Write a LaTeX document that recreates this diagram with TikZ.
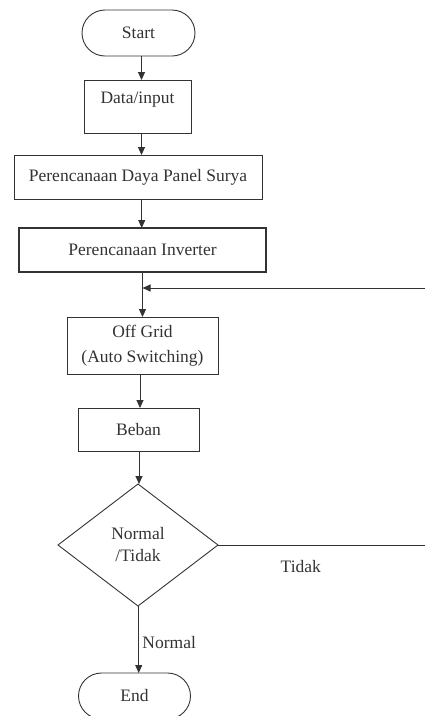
\documentclass[tikz,border=0pt]{standalone}
\usepackage{fontspec}
\setmainfont{Liberation Serif}
\usetikzlibrary{positioning, shapes, arrows.meta, calc}

\begin{document}
\begin{tikzpicture}[x=1pt, y=1pt, ->, >={Triangle[length=8pt,width=7pt]}, line width=0.9pt, color=black!80,
  every node/.style={font=\fontsize{17.5}{22}\selectfont},
  box/.style={draw, rectangle, inner sep=0pt, outer sep=0pt, align=center},
  term/.style={draw, rounded rectangle, inner sep=0pt, outer sep=0pt, minimum width=113pt, minimum height=46pt},
  cond/.style={draw, diamond, inner sep=0pt, outer sep=0pt, aspect=1.3, minimum width=160pt, minimum height=122pt, align=center}]
  \path[use as bounding box] (0,0) coordinate (nw) rectangle (425,-716) coordinate (se);

  \node[term] (start) at (138.5,-33) {Start};
  \node[box, minimum width=107pt, minimum height=53pt, text depth=18pt, below=24pt of start, xshift=-1pt] (data) {Data/input};
  \node[box, minimum width=248pt, minimum height=44pt, below=22pt of data, xshift=0.5pt] (daya) {Perencanaan Daya Panel Surya};
  \node[box, line width=1.3pt, minimum width=247pt, minimum height=44pt, below=29pt of daya, xshift=4.5pt] (inv) {Perencanaan Inverter};
  \node[box, minimum width=151pt, minimum height=57pt, below=45pt of inv] (off) {Off Grid\\[3pt](Auto Switching)};
  \node[box, minimum width=121pt, minimum height=43pt, below=34pt of off, xshift=-4pt] (beban) {Beban};
  \node[cond, below=33pt of beban, xshift=-0.5pt] (dec) {Normal\\/Tidak};
  \node[term, minimum width=112pt, below=67pt of dec, xshift=-3.5pt] (end) {End};

  \coordinate[below=16pt of inv.south] (join);

  \path
    ([xshift=3pt]start.south) edge ([xshift=3pt]start.south |- data.north)
    ([xshift=4pt]data.south) edge ([xshift=4pt]data.south |- daya.north)
    ([xshift=3.7pt]daya.south) edge ([xshift=3.7pt]daya.south |- inv.north)
    (inv.south) edge (off.north)
    ([xshift=-2.5pt]off.south) edge ([xshift=-2.5pt]off.south |- beban.north)
    ([xshift=0.5pt]beban.south) edge ([xshift=0.5pt]beban.south |- dec.north)
    ([xshift=0.7pt]dec.south) edge node[right, pos=0.55] {Normal} ([xshift=0.7pt]dec.south |- end.north)
    (dec.east) edge[-] node[below=12pt, pos=0.4] {Tidak} (dec.east -| se)
    (join -| se) edge (join);
\end{tikzpicture}
\end{document}
